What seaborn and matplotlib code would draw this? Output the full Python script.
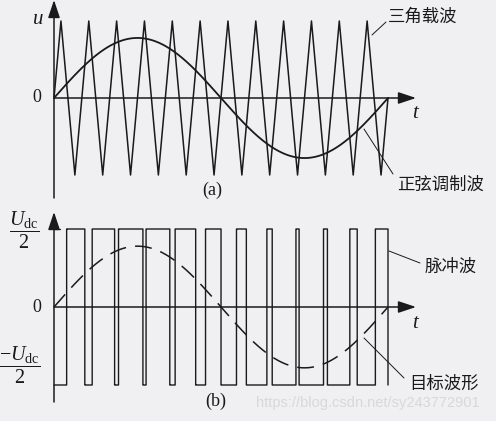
import numpy as np
import pandas as pd
import seaborn as sns
import matplotlib.pyplot as plt

# --- data ---
# carrier vertices, time in units of 1/48 of the sine period
tri_t = [0, 1, 3, 5, 7, 9, 11, 13, 15, 17, 19, 21, 23, 25, 27, 29, 31, 33,
         35, 37, 39, 41, 43, 45, 47, 48]
tri_v = [0, 1, -1, 1, -1, 1, -1, 1, -1, 1, -1, 1, -1, 1, -1, 1, -1, 1,
         -1, 1, -1, 1, -1, 1, -1, 0]
mod_amp = 0.78          # amplitude of the sine relative to the carrier
pulse_levels = [-1, 1]  # -Udc/2, +Udc/2

sns.set_theme(style="white")
plt.rcParams['font.family'] = ['Liberation Serif', 'Noto Sans CJK SC', 'DejaVu Sans']
plt.rcParams['mathtext.fontset'] = 'custom'
plt.rcParams['mathtext.rm'] = 'Liberation Serif'
plt.rcParams['mathtext.it'] = 'Liberation Serif:italic'

bg = '#f0f0f2'
ink = '#1a1a1a'
cjk = ['Noto Sans CJK SC', 'DejaVu Sans']

W, H = 496, 421
fig = plt.figure(figsize=(W / 100, H / 100), dpi=100, facecolor=bg)

# axes spanning full width; data coords chosen so that t=0..1 -> px 54..388
x0, x1 = 54, 388
span = x1 - x0
xlim = (-x0 / span, (W - x0) / span)

def px(x):
    return (x - x0) / span

# top panel: y px 0..200, zero at 98, amplitude 77
axa = fig.add_axes([0, 1 - 200 / H, 1, 200 / H])
za, aa = 98, 77
axa.set_xlim(xlim)
axa.set_ylim((za - 200) / aa, za / aa)

# bottom panel: y px 200..421, zero at 307, amplitude 78
axb = fig.add_axes([0, 0, 1, 221 / H])
zb, ab = 307, 78
axb.set_xlim(xlim)
axb.set_ylim((zb - 421) / ab, (zb - 200) / ab)

for ax in (axa, axb):
    ax.set_facecolor(bg)
    ax.axis('off')

t = np.linspace(0, 1, 20001)
sine = mod_amp * np.sin(2 * np.pi * t)
carrier = np.interp(t, np.array(tri_t) / 48, tri_v)
pulse = np.where(sine > carrier, pulse_levels[1], pulse_levels[0])

tri_df = pd.DataFrame({'t': np.array(tri_t) / 48, 'v': tri_v})
sin_df = pd.DataFrame({'t': t, 'v': sine})
pwm_df = pd.DataFrame({'t': np.append(t, 1.0), 'v': np.append(pulse, pulse_levels[0])})

# (a) carrier and modulating wave
sns.lineplot(data=tri_df, x='t', y='v', ax=axa, color=ink, lw=1.1,
             sort=False, estimator=None)
sns.lineplot(data=sin_df, x='t', y='v', ax=axa, color=ink, lw=1.3,
             sort=False, estimator=None)

# (b) pulse wave and target wave
sns.lineplot(data=pwm_df, x='t', y='v', ax=axb, color=ink, lw=1.0,
             sort=False, estimator=None, drawstyle='steps-post')
sns.lineplot(data=sin_df, x='t', y='v', ax=axb, color=ink, lw=1.1,
             sort=False, estimator=None, dashes=False, linestyle=(0, (11, 6)))

# axes with arrows
arrow = dict(arrowstyle='-|>,head_length=0.9,head_width=0.3', color=ink, lw=1.1,
             shrinkA=0, shrinkB=0)
axa.annotate('', xy=(0, za / aa), xytext=(0, (za - 198) / aa), arrowprops=arrow)
axa.annotate('', xy=(px(416), 0), xytext=(0, 0), arrowprops=arrow)
axb.annotate('', xy=(0, (zb - 212) / ab), xytext=(0, (zb - 402) / ab), arrowprops=arrow)
axb.annotate('', xy=(px(416), 0), xytext=(0, 0), arrowprops=arrow)
axb.plot([0, px(60)], [1, 1], color=ink, lw=0.9)

# axis labels
axa.text(px(38), (za - 19) / aa, '$u$', fontsize=15, ha='center', va='center', color=ink)
axa.text(px(37), 0, '0', fontsize=13, ha='center', va='center', color=ink)
axa.text(px(416), (za - 113) / aa, '$t$', fontsize=15, ha='center', va='center', color=ink)
axa.text(px(212), (za - 190) / aa, '(a)', fontsize=13, ha='center', va='center', color=ink)

axb.text(px(37), 0, '0', fontsize=13, ha='center', va='center', color=ink)
axb.text(px(416), (zb - 323) / ab, '$t$', fontsize=15, ha='center', va='center', color=ink)
axb.text(px(216), (zb - 401) / ab, '(b)', fontsize=13, ha='center', va='center', color=ink)
axb.text(px(24), (zb - 230) / ab, r'$\dfrac{U_{\mathrm{dc}}}{2}$', fontsize=14.5,
         ha='center', va='center', color=ink)
axb.text(px(20), (zb - 365) / ab, r'$\dfrac{-U_{\mathrm{dc}}}{2}$', fontsize=14.5,
         ha='center', va='center', color=ink)

# callouts
axa.plot([px(372), px(386)], [(za - 35) / aa, (za - 22) / aa], color=ink, lw=0.7)
axa.text(px(423), (za - 17) / aa, '三角载波', family=cjk, fontsize=12.5,
         ha='center', va='center', color=ink)
axa.plot([px(364), px(393)], [(za - 129) / aa, (za - 174) / aa], color=ink, lw=0.7)
axa.text(px(441), (za - 185) / aa, '正弦调制波', family=cjk, fontsize=12.5,
         ha='center', va='center', color=ink)

axb.plot([px(389), px(420)], [(zb - 251) / ab, (zb - 263) / ab], color=ink, lw=0.7)
axb.text(px(451), (zb - 267) / ab, '脉冲波', family=cjk, fontsize=12.5,
         ha='center', va='center', color=ink)
axb.plot([px(364), px(404)], [(zb - 338) / ab, (zb - 378) / ab], color=ink, lw=0.7)
axb.text(px(444), (zb - 384) / ab, '目标波形', family=cjk, fontsize=12.5,
         ha='center', va='center', color=ink)

# watermark
axb.text(px(368), (zb - 403) / ab, 'https://blog.csdn.net/sy243772901',
         family=['Liberation Sans'], fontsize=10.5, ha='center', va='center',
         color='#d8d8da')

fig.savefig('out.png', dpi=100, facecolor=bg)
